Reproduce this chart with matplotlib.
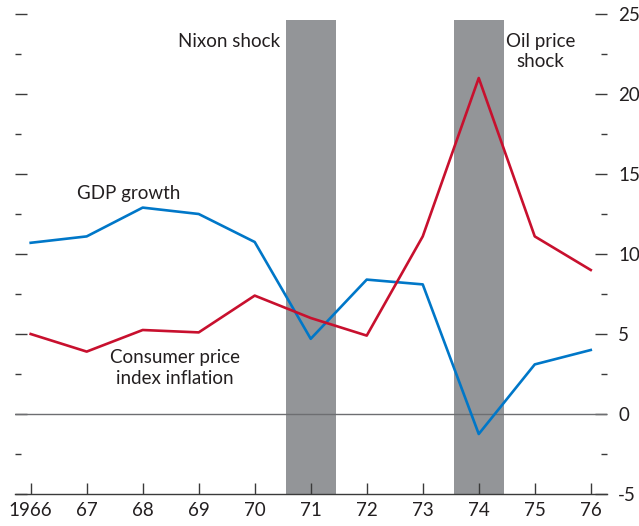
import matplotlib
matplotlib.use("Agg")
import matplotlib.pyplot as plt
from matplotlib.ticker import MultipleLocator

years = [1966, 1967, 1968, 1969, 1970, 1971, 1972, 1973, 1974, 1975, 1976]
year_labels = ["1966", "67", "68", "69", "70", "71", "72", "73", "74", "75", "76"]
gdp_growth = [10.7, 11.1, 12.9, 12.5, 10.75, 4.7, 8.4, 8.1, -1.25, 3.1, 4.0]
cpi_inflation = [5.0, 3.9, 5.25, 5.1, 7.4, 6.0, 4.9, 11.1, 21.0, 11.1, 9.0]
shock_years = [1971, 1974]
shock_top = 24.6
y_ticks = [-5, 0, 5, 10, 15, 20, 25]

plt.rcParams['font.family'] = ['Lato', 'DejaVu Sans']
TXT = '#231f20'
AX = '#3a3a3a'
FS = 13.5

fig = plt.figure(figsize=(6.39, 5.26), dpi=100)
ax = fig.add_axes([15/639, 1-494/526, (607-15)/639, (494-14)/526])

ax.bar(shock_years, [shock_top + 5]*len(shock_years), bottom=-5, width=0.9,
       color='#939598', zorder=1)
ax.axhline(0, color='#6d6e71', lw=1.0, zorder=2)
ax.plot(years, gdp_growth, color='#0077c8', lw=1.9, zorder=3)
ax.plot(years, cpi_inflation, color='#c8102e', lw=1.9, zorder=3)

ax.set_xlim(1965.72, 1976.29)
ax.set_ylim(-5, 25)
ax.set_xticks(years)
ax.set_xticklabels(year_labels)
ax.set_yticks(y_ticks)
ax.set_yticklabels([str(v) for v in y_ticks])
ax.yaxis.set_minor_locator(MultipleLocator(2.5))

for s in ['top', 'left', 'right']:
    ax.spines[s].set_visible(False)
ax.spines['bottom'].set_color(AX)
ax.spines['bottom'].set_linewidth(1.0)

ax.tick_params(axis='y', which='major', direction='in', left=True, right=True,
               labelleft=False, labelright=True, length=8.3, width=1.0,
               color=AX, labelsize=FS, labelcolor=TXT, pad=8)
ax.tick_params(axis='y', which='minor', direction='in', left=True, right=True,
               length=4.3, width=1.0, color=AX)
ax.tick_params(axis='x', which='major', direction='in', length=8, width=1.0,
               color=AX, labelsize=FS, labelcolor=TXT, pad=6)

ax.text(1970.45, 23.3, "Nixon shock", ha='right', va='center', fontsize=FS, color=TXT)
ax.text(1975.1, 23.3, "Oil price", ha='center', va='center', fontsize=FS, color=TXT)
ax.text(1975.1, 22.05, "shock", ha='center', va='center', fontsize=FS, color=TXT)
ax.text(1966.83, 13.8, "GDP growth", ha='left', va='center', fontsize=FS, color=TXT)
ax.text(1968.57, 3.5, "Consumer price", ha='center', va='center', fontsize=FS, color=TXT)
ax.text(1968.57, 2.25, "index inflation", ha='center', va='center', fontsize=FS, color=TXT)

fig.savefig("out.png", dpi=100)
